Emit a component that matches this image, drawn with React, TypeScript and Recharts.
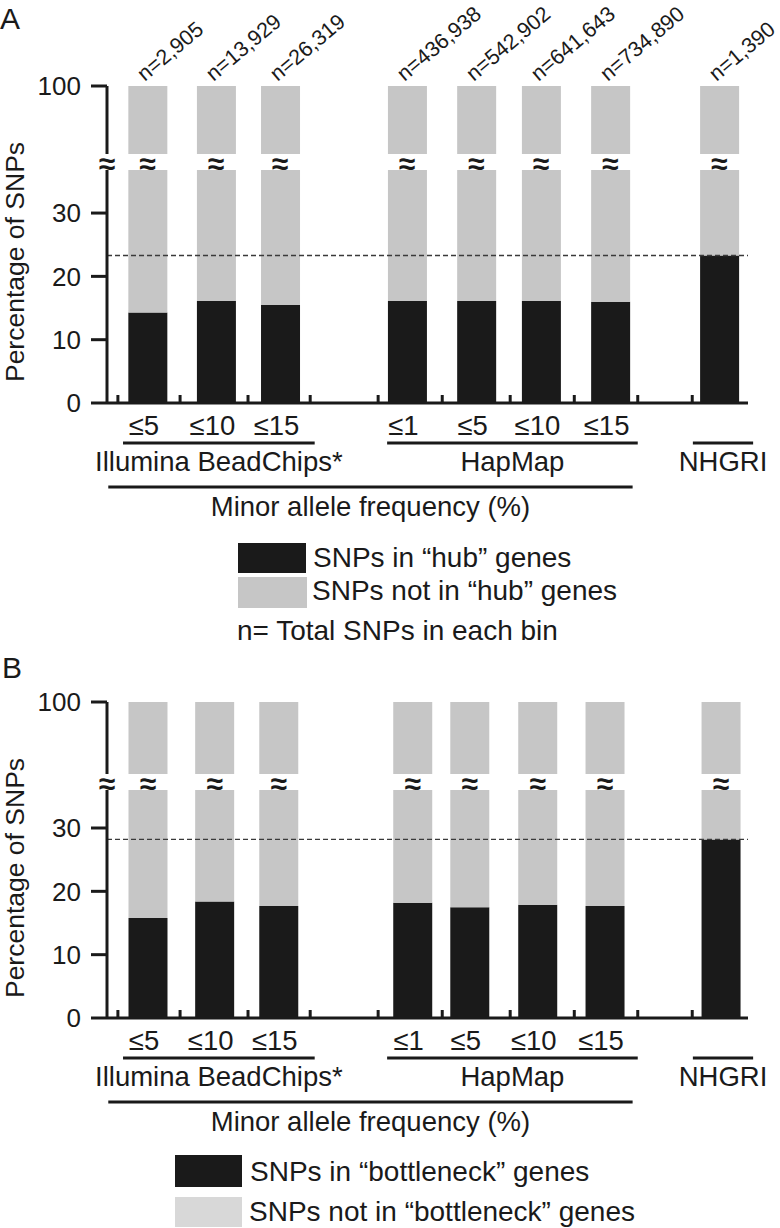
import React from 'react';
import { BarChart, Bar, XAxis, YAxis, ReferenceLine, LabelList } from 'recharts';

const FONT = '"Liberation Sans", Arial, Helvetica, sans-serif';
const BLACK = '#1a1a1a';
const GRAY = '#c6c6c6';
const LIGHT_GRAY = '#d8d8d8';

// Minor allele frequency bins (x categories)
const binLabels = ['≤5', '≤10', '≤15', '≤1', '≤5', '≤10', '≤15', ''];
const totalSNPs = [
  'n=2,905', 'n=13,929', 'n=26,319', 'n=436,938',
  'n=542,902', 'n=641,643', 'n=734,890', 'n=1,390',
];
// where each bin sits along the x axis (axis runs 0..10)
const binSlotA = [0.63, 1.7, 2.7, 4.68, 5.76, 6.77, 7.85, 9.55];
const binSlotB = [0.64, 1.68, 2.68, 4.77, 5.66, 6.72, 7.77, 9.58];
const separatorTicks = [0.17, 1.14, 2.2, 3.17, 4.23, 5.23, 6.29, 7.29, 8.28, 9.13];

// source groups under the axis
const groupNames = ['Illumina BeadChips*', 'HapMap', 'NHGRI'];
const groupStart = [0.25, 4.37, 9.14];
const groupEnd = [3.24, 8.28, 10.08];
const axisTitle = 'Minor allele frequency (%)';
const axisTitleSpan = [0.02, 8.2];

// % of SNPs falling in hub / bottleneck genes
const hubPct = [14.3, 16.1, 15.5, 16.1, 16.1, 16.1, 16.0, 23.3];
const bottleneckPct = [15.8, 18.4, 17.7, 18.2, 17.5, 17.9, 17.7, 28.2];

const lowerTicks = [0, 10, 20, 30];
const upperTicks = [100];

const axisStyle = { stroke: BLACK, strokeWidth: 3 };
const tickStyle = { fill: BLACK, fontSize: 26, fontFamily: FONT };

// the axis-break mark drawn under every upper bar and on the y axis
const BreakTick = (props: any) => (
  <text x={props.x} y={props.y + 9} textAnchor="middle" dominantBaseline="central"
    fontSize={30} fontWeight="bold" fontFamily={FONT} fill={BLACK}>≈</text>
);

const SeparatorTick = (props: any) => (
  <line x1={props.x} x2={props.x} y1={props.y - 1} y2={props.y - 8} stroke={BLACK} strokeWidth={3} />
);

const BinLabel = (props: any) => {
  if (!props.value) return null;
  return (
    <text x={props.x + props.width / 2 - 4} y={props.y + props.height + 32} textAnchor="middle"
      fontSize={27.5} fontFamily={FONT} fill={BLACK}>{props.value}</text>
  );
};

const NLabel = (props: any) => {
  const x = props.x + props.width / 2 - 3;
  const y = props.y - 4;
  return (
    <text x={x} y={y} transform={`rotate(-40 ${x} ${y})`} fontSize={21.5} fontFamily={FONT} fill={BLACK}>
      {props.value}
    </text>
  );
};

const bracket = (name: string, lineDy: number, textDy: number) => (p: any) => (
  <g>
    <line x1={p.x1} x2={p.x2} y1={p.y1 + lineDy} y2={p.y2 + lineDy} stroke={BLACK} strokeWidth={3} />
    <text x={(p.x1 + p.x2) / 2} y={p.y1 + textDy} textAnchor="middle" fontSize={27.5}
      fontFamily={FONT} fill={BLACK}>{name}</text>
  </g>
);

interface PanelProps {
  pct: number[];
  slots: number[];
  upperTop: number;
  upperPlotH: number;
  upperMin: number;
  lowerPlotH: number;
  lowerMax: number;
  showN: boolean;
}

const GAP = 16; // white gap of the broken axis

const Panel: React.FC<PanelProps> = ({ pct, slots, upperTop, upperPlotH, upperMin, lowerPlotH, lowerMax, showN }) => {
  const rows = pct.map((v, i) => ({
    slot: slots[i],
    bin: binLabels[i],
    n: totalSNPs[i],
    inGenes: v,
    notInBelowBreak: lowerMax - v,
    total: v + (100 - v),
  }));
  const lowerTop = upperTop + 86 + upperPlotH + GAP;

  return (
    <>
      <div style={{ position: 'absolute', left: 0, top: upperTop }}>
        <BarChart width={780} height={86 + upperPlotH + 40} data={rows} margin={{ top: 86, right: 32, bottom: 0, left: 0 }}>
          <XAxis dataKey="slot" type="number" domain={[0, 10]} ticks={[0, ...slots]} interval={0}
            height={40} axisLine={false} tickLine={false} tickSize={0} tickMargin={0} tick={BreakTick} />
          <YAxis type="number" domain={[upperMin, 100]} ticks={upperTicks} width={107}
            axisLine={axisStyle} tickLine={axisStyle} tickSize={16} tickMargin={10} tick={tickStyle} />
          <Bar dataKey="total" fill={GRAY} barSize={39} isAnimationActive={false}>
            {showN && <LabelList dataKey="n" content={NLabel} />}
          </Bar>
        </BarChart>
      </div>
      <div style={{ position: 'absolute', left: 0, top: lowerTop }}>
        <BarChart width={780} height={lowerPlotH + 130} data={rows} margin={{ top: 0, right: 32, bottom: 120, left: 0 }}>
          <XAxis dataKey="slot" type="number" domain={[0, 10]} ticks={separatorTicks} interval={0}
            height={10} axisLine={axisStyle} tickLine={false} tickSize={0} tickMargin={0} tick={SeparatorTick} />
          <YAxis type="number" domain={[0, lowerMax]} ticks={lowerTicks} width={107}
            axisLine={axisStyle} tickLine={axisStyle} tickSize={16} tickMargin={10} tick={tickStyle} />
          <Bar dataKey="inGenes" stackId="s" fill={BLACK} barSize={39} isAnimationActive={false}>
            <LabelList dataKey="bin" content={BinLabel} />
          </Bar>
          <Bar dataKey="notInBelowBreak" stackId="s" fill={GRAY} barSize={39} isAnimationActive={false} />
          <ReferenceLine y={pct[pct.length - 1]} stroke="#3a3a3a" strokeWidth={1.3} strokeDasharray="5 3" />
          {groupNames.map((g, i) => (
            <ReferenceLine key={g} segment={[{ x: groupStart[i], y: 0 }, { x: groupEnd[i], y: 0 }]}
              ifOverflow="visible" shape={bracket(g, 40, 68)} />
          ))}
          <ReferenceLine segment={[{ x: axisTitleSpan[0], y: 0 }, { x: axisTitleSpan[1], y: 0 }]}
            ifOverflow="visible" shape={bracket(axisTitle, 84, 113)} />
        </BarChart>
      </div>
    </>
  );
};

const txt = { fontFamily: FONT, fill: BLACK };

export default function App() {
  return (
    <div style={{ position: 'absolute', left: 0, top: 0, width: 780, height: 1228, background: '#fff' }}>
      <Panel pct={hubPct} slots={binSlotA} upperTop={0} upperPlotH={68} upperMin={89.3}
        lowerPlotH={233} lowerMax={36.8} showN />
      <Panel pct={bottleneckPct} slots={binSlotB} upperTop={616} upperPlotH={72} upperMin={88.6}
        lowerPlotH={228} lowerMax={36} showN={false} />
      <svg width={780} height={1228} style={{ position: 'absolute', left: 0, top: 0, pointerEvents: 'none' }}>
        <text x={0} y={29} fontSize={30} {...txt}>A</text>
        <text x={2} y={678} fontSize={30} {...txt}>B</text>
        <text x={24} y={262} transform="rotate(-90 24 262)" textAnchor="middle" fontSize={26.5} {...txt}>
          Percentage of SNPs
        </text>
        <text x={24} y={878} transform="rotate(-90 24 878)" textAnchor="middle" fontSize={26.5} {...txt}>
          Percentage of SNPs
        </text>

        <rect x={238} y={543} width={68} height={30} fill={BLACK} />
        <rect x={238} y={577} width={69} height={31} fill={GRAY} />
        <text x={313} y={567} fontSize={28} {...txt}>SNPs in “hub” genes</text>
        <text x={312} y={600} fontSize={28} {...txt}>SNPs not in “hub” genes</text>
        <text x={237} y={640} fontSize={28} {...txt}>n= Total SNPs in each bin</text>

        <rect x={175} y={1155} width={67} height={32} fill={BLACK} />
        <rect x={175} y={1197} width={67} height={30} fill={LIGHT_GRAY} />
        <text x={250} y={1181} fontSize={28} {...txt}>SNPs in “bottleneck” genes</text>
        <text x={249} y={1221} fontSize={28} {...txt}>SNPs not in “bottleneck” genes</text>
      </svg>
    </div>
  );
}
